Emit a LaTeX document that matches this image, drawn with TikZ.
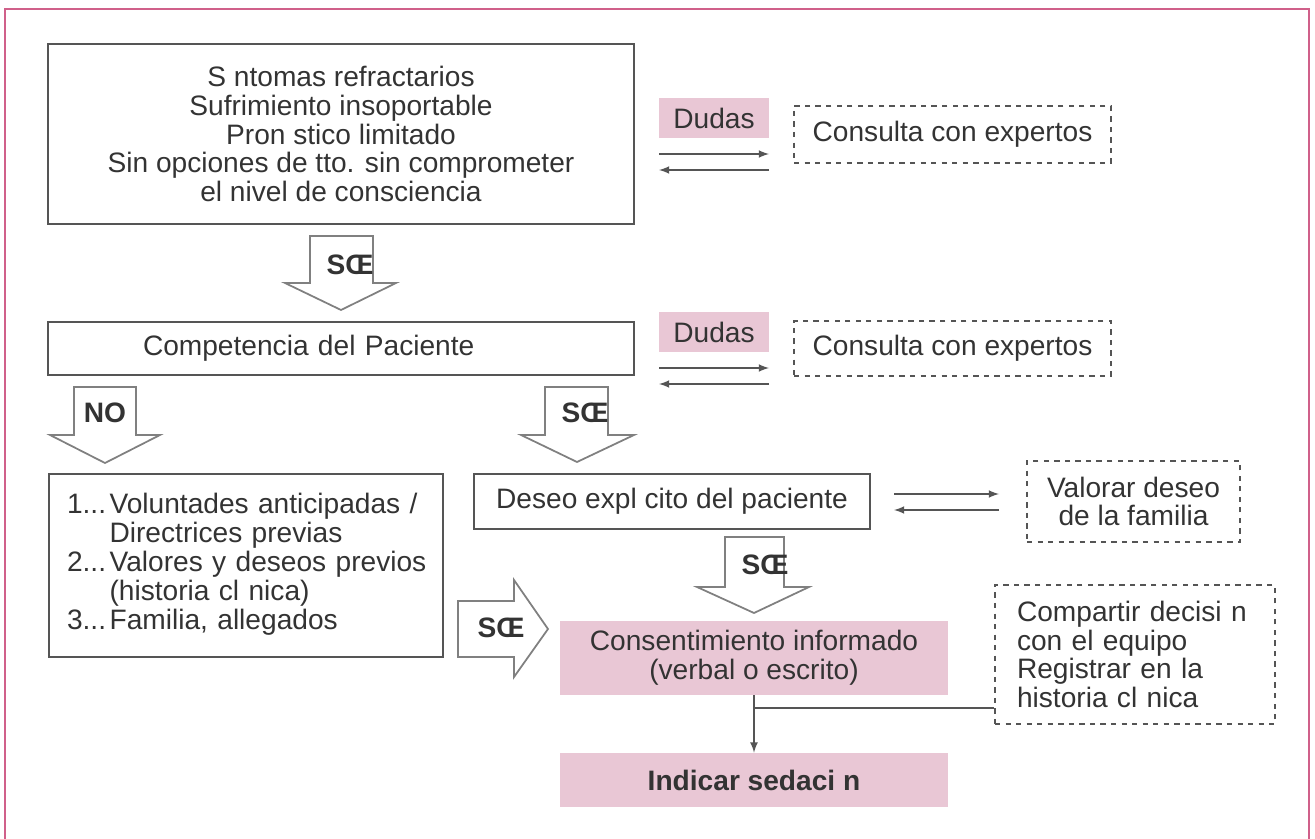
\documentclass[tikz,border=0pt]{standalone}
\usepackage{fontspec}
\setmainfont{Liberation Sans}

\definecolor{rosa}{HTML}{E9C7D5}
\definecolor{marco}{HTML}{D0608A}
\definecolor{linea}{HTML}{555555}
\definecolor{texto}{HTML}{333333}

\tikzset{
  caja/.style={draw=linea, line width=1.2pt, text=texto, inner sep=0pt, align=center},
  punteada/.style={draw=linea, dashed, line width=0.9pt, text=texto, inner sep=0pt, align=center},
  rosada/.style={fill=rosa, text=texto, inner sep=0pt, align=center},
  flecha/.style={draw=linea, line width=1pt, -latex},
  gorda/.style={draw=gray, line width=1pt, fill=white},
  sino/.style={font=\fontsize{16}{16.3}\selectfont\bfseries, text=texto, inner sep=0pt},
}

\begin{document}
\begin{tikzpicture}[y=-1cm, font=\fontsize{16}{16.3}\selectfont]
\useasboundingbox (0,0) rectangle (26.3,16.78);
\draw[marco, line width=1.6pt] (0.1,16.78) -- (0.1,0.18) -- (26.18,0.18) -- (26.18,16.78);

\node[caja, minimum width=11.72cm, minimum height=3.6cm] (sintomas) at (6.82,2.68)
  {S ntomas refractarios\\Sufrimiento insoportable\\Pron stico limitado\\Sin opciones de tto. sin comprometer\\el nivel de consciencia};
\node[rosada, minimum width=2.2cm, minimum height=0.8cm] (dudas1) at (14.28,2.36) {Dudas};
\node[punteada, minimum width=6.34cm, minimum height=1.14cm] (consulta1) at (19.05,2.69) {Consulta con expertos};
\coordinate (ida1a) at (13.18,3.08);
\coordinate (ida1b) at (15.38,3.08);
\coordinate (vuelta1a) at (15.38,3.4);
\coordinate (vuelta1b) at (13.18,3.4);
\draw[flecha] (ida1a) -- (ida1b);
\draw[flecha] (vuelta1a) -- (vuelta1b);

\draw[gorda] (6.2,4.72) -- (7.46,4.72) -- (7.46,5.66) -- (7.92,5.66) -- (6.82,6.2) -- (5.7,5.66) -- (6.2,5.66) -- cycle;
\node[sino] (si1) at (7.0,5.3) {SŒ};

\node[caja, minimum width=11.72cm, minimum height=1.06cm, text width=11.72cm, align=left] (competencia) at (6.82,6.97)
  {\hspace*{1.9cm}Competencia del Paciente};
\node[rosada, minimum width=2.2cm, minimum height=0.8cm] (dudas2) at (14.28,6.64) {Dudas};
\node[punteada, minimum width=6.34cm, minimum height=1.1cm] (consulta2) at (19.05,6.97) {Consulta con expertos};
\coordinate (ida2a) at (13.18,7.36);
\coordinate (ida2b) at (15.38,7.36);
\coordinate (vuelta2a) at (15.38,7.68);
\coordinate (vuelta2b) at (13.18,7.68);
\draw[flecha] (ida2a) -- (ida2b);
\draw[flecha] (vuelta2a) -- (vuelta2b);

\draw[gorda] (1.48,7.74) -- (2.72,7.74) -- (2.72,8.7) -- (3.2,8.7) -- (2.1,9.26) -- (1.0,8.7) -- (1.48,8.7) -- cycle;
\node[sino] (no) at (2.1,8.26) {NO};
\draw[gorda] (10.9,7.74) -- (12.16,7.74) -- (12.16,8.7) -- (12.68,8.7) -- (11.54,9.24) -- (10.42,8.7) -- (10.9,8.7) -- cycle;
\node[sino] (si2) at (11.7,8.26) {SŒ};

\node[caja, minimum width=7.88cm, minimum height=3.66cm, text width=7.16cm, inner xsep=0.36cm, align=left] (previos) at (4.92,11.31)
  {\begin{tabular}{@{}l@{\hspace{2pt}}l@{}}
   1...&Voluntades anticipadas /\\
       &Directrices previas\\
   2...&Valores y deseos previos\\
       &(historia cl nica)\\
   3...&Familia, allegados
   \end{tabular}};

\node[caja, minimum width=7.92cm, minimum height=1.1cm] (deseo) at (13.44,10.03) {Deseo expl cito del paciente};
\node[punteada, minimum width=4.26cm, minimum height=1.62cm] (valorar) at (22.67,10.03) {Valorar deseo\\de la familia};
\coordinate (ida3a) at (17.88,9.88);
\coordinate (ida3b) at (19.98,9.88);
\coordinate (vuelta3a) at (19.98,10.2);
\coordinate (vuelta3b) at (17.88,10.2);
\draw[flecha] (ida3a) -- (ida3b);
\draw[flecha] (vuelta3a) -- (vuelta3b);

\draw[gorda] (14.5,10.74) -- (15.68,10.74) -- (15.68,11.74) -- (16.18,11.74) -- (15.08,12.26) -- (13.94,11.74) -- (14.5,11.74) -- cycle;
\node[sino] (si3) at (15.3,11.3) {SŒ};
\draw[gorda] (9.16,12.02) -- (10.28,12.02) -- (10.28,11.6) -- (10.96,12.58) -- (10.28,13.54) -- (10.28,13.14) -- (9.16,13.14) -- cycle;
\node[sino] (si4) at (10.02,12.56) {SŒ};

\node[rosada, minimum width=7.76cm, minimum height=1.48cm] (consentimiento) at (15.08,13.16)
  {Consentimiento informado\\(verbal o escrito)};
\node[rosada, minimum width=7.76cm, minimum height=1.08cm, font=\fontsize{16}{16.3}\selectfont\bfseries] (sedacion) at (15.08,15.6)
  {Indicar sedaci n};
\node[punteada, minimum width=5.6cm, minimum height=2.78cm, text width=4.72cm, inner xsep=0.44cm, align=left] (compartir) at (22.7,13.09)
  {Compartir decisi n\\con el equipo\\Registrar en la\\historia cl nica};

\coordinate (union) at (15.08,14.16);
\draw[linea, line width=1pt] (compartir.west |- union) -- (union);
\draw[flecha] (consentimiento) -- (sedacion);

\end{tikzpicture}
\end{document}
